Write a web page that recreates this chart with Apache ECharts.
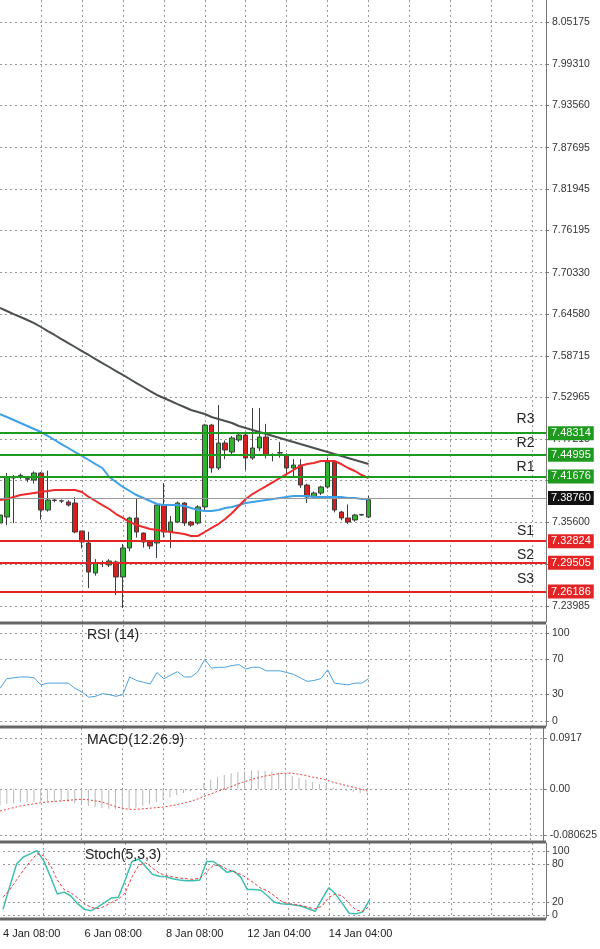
<!DOCTYPE html>
<html><head><meta charset="utf-8">
<script src="https://cdn.jsdelivr.net/npm/echarts@6/dist/echarts.min.js"></script>
<style>html,body{margin:0;padding:0;background:#fff}#c{width:600px;height:949px}</style>
</head><body><div id="c"></div>
<script>
// ---- data ----
const ohlc = [ // [open, close, low, high]
[7.3552,7.3663,7.350,7.368],[7.3636,7.4192,7.352,7.4247],[7.4178,7.4185,7.355,7.422],[7.4190,7.4215,7.416,7.424],
[7.4170,7.4160,7.412,7.420],[7.4150,7.4247,7.410,7.427],[7.4247,7.3733,7.360,7.426],[7.3733,7.3872,7.371,7.428],
[7.3872,7.3865,7.384,7.389],[7.3860,7.3858,7.383,7.388],[7.3844,7.3802,7.378,7.387],[7.3830,7.3427,7.341,7.391],
[7.3441,7.3288,7.320,7.3441],[7.3274,7.2871,7.2649,7.343],[7.2857,7.2996,7.282,7.305],[7.2996,7.2990,7.294,7.303],
[7.2969,7.3024,7.294,7.305],[7.3010,7.2802,7.2551,7.303],[7.2802,7.3205,7.2371,7.326],[7.3205,7.3622,7.316,7.364],
[7.3622,7.3427,7.335,7.390],[7.3413,7.3288,7.321,7.342],[7.3288,7.3233,7.319,7.331],[7.3274,7.3802,7.3066,7.381],
[7.3802,7.3427,7.335,7.4108],[7.3427,7.3566,7.3205,7.365],[7.3566,7.3830,7.355,7.385],[7.3830,7.3552,7.351,7.384],
[7.3566,7.3524,7.350,7.358],[7.3552,7.3775,7.353,7.380],[7.3775,7.4914,7.373,7.493],[7.4914,7.4317,7.425,7.493],
[7.4317,7.4664,7.429,7.5192],[7.4664,7.4567,7.444,7.470],[7.4539,7.4734,7.450,7.476],[7.4706,7.4775,7.468,7.480],
[7.4775,7.4456,7.429,7.480],[7.4456,7.4595,7.443,7.5151],[7.4595,7.4748,7.455,7.5151],[7.4748,7.4497,7.445,7.493],
[7.4497,7.4490,7.441,7.452],[7.4525,7.4530,7.446,7.468],[7.4497,7.4317,7.422,7.452],[7.4317,7.4358,7.420,7.444],
[7.4358,7.4080,7.404,7.444],[7.4080,7.3914,7.383,7.410],[7.3914,7.3969,7.389,7.399],[7.3969,7.4053,7.394,7.407],
[7.4053,7.4400,7.403,7.446],[7.4400,7.3733,7.370,7.442],[7.3705,7.3622,7.359,7.372],[7.3622,7.3566,7.354,7.381],
[7.3594,7.3663,7.357,7.368],[7.3663,7.3670,7.365,7.368],[7.3636,7.3876,7.362,7.393]];
const maRed = [7.3872,7.3886,7.3914,7.3941,7.3955,7.3969,7.3983,7.3997,7.4011,7.4011,7.4011,7.4011,7.3983,7.3914,7.3858,7.3802,7.3747,7.3677,7.3622,7.3566,7.3524,7.3497,7.3469,7.3455,7.3441,7.3427,7.3413,7.3399,7.3372,7.3372,7.3427,7.3483,7.3538,7.3608,7.3691,7.3789,7.3886,7.3955,7.4011,7.4066,7.4122,7.4178,7.4233,7.4289,7.4345,7.4372,7.4386,7.4414,7.4414,7.4414,7.4372,7.4317,7.4275,7.4219,7.4178];
const maBlue = [7.5067,7.5026,7.4984,7.4942,7.4901,7.4859,7.4817,7.4762,7.4706,7.4650,7.4595,7.4539,7.4484,7.4428,7.4372,7.4317,7.4192,7.4122,7.4053,7.3997,7.3941,7.3900,7.3858,7.3816,7.3802,7.3802,7.3802,7.3789,7.3761,7.3733,7.3719,7.3719,7.3733,7.3761,7.3775,7.3802,7.3830,7.3844,7.3858,7.3872,7.3886,7.3900,7.3914,7.3928,7.3928,7.3928,7.3914,7.3914,7.3914,7.3914,7.3914,7.3900,7.3900,7.3886,7.3886];
const maGray = [7.6541,7.6499,7.6457,7.6416,7.6374,7.6332,7.6277,7.6221,7.6166,7.6110,7.6054,7.5999,7.5943,7.5888,7.5832,7.5776,7.5721,7.5665,7.5610,7.5554,7.5498,7.5443,7.5387,7.5332,7.5290,7.5248,7.5206,7.5165,7.5123,7.5095,7.5068,7.5026,7.4998,7.4970,7.4942,7.4901,7.4873,7.4845,7.4817,7.4789,7.4762,7.4734,7.4706,7.4678,7.4650,7.4623,7.4595,7.4567,7.4539,7.4511,7.4484,7.4456,7.4428,7.4400,7.4372];
const rsi = [37,48,49,50,50,49,41,43,43,43,43,37,33,27,28,31,30,28,30,50,46,44,42,55,48,52,56,50,50,56,70,60,61,61,63,64,59,61,61,57,57,57,55,53,49,45,46,48,58,43,42,41,43,43,48];
const macdHist = [-0.028,-0.026,-0.024,-0.023,-0.022,-0.021,-0.021,-0.021,-0.021,-0.021,-0.022,-0.024,-0.026,-0.029,-0.031,-0.033,-0.034,-0.035,-0.036,-0.035,-0.032,-0.029,-0.026,-0.022,-0.018,-0.014,-0.01,-0.006,-0.003,0.002,0.012,0.018,0.022,0.026,0.029,0.031,0.033,0.034,0.034,0.033,0.032,0.03,0.027,0.024,0.021,0.018,0.014,0.01,0.009,0.004,0.001,-0.002,-0.004,-0.006,-0.005];
const macdSignal = [-0.038,-0.035,-0.032,-0.029,-0.027,-0.025,-0.023,-0.022,-0.021,-0.020,-0.019,-0.018,-0.017,-0.018,-0.020,-0.022,-0.026,-0.030,-0.033,-0.035,-0.035,-0.034,-0.033,-0.032,-0.031,-0.029,-0.027,-0.024,-0.021,-0.017,-0.012,-0.008,-0.003,0.001,0.005,0.010,0.014,0.018,0.021,0.024,0.026,0.028,0.029,0.029,0.027,0.025,0.022,0.020,0.017,0.013,0.010,0.007,0.004,0.001,-0.002];
const stochK = [9,45,80,91,96,101,85,60,33,36,30,18,9,7,13,20,27,28,55,84,88,76,64,61,60,57,55,54,54,55,84,84,76,67,69,60,40,40,39,30,20,18,17,16,14,10,6,25,43,33,18,3,2,5,24];
const stochD = [28,40,55,70,84,96,93,78,55,40,35,27,18,12,10,14,20,25,35,60,78,82,74,66,62,60,58,57,56,58,68,78,78,72,68,64,58,50,42,38,30,22,18,17,15,12,10,14,28,33,30,18,8,6,14];
const dateLabels = {0:'4 Jan 08:00',12:'6 Jan 08:00',24:'8 Jan 08:00',36:'12 Jan 04:00',48:'14 Jan 04:00'};
const priceTicks = [8.05175,7.99310,7.93560,7.87695,7.81945,7.76195,7.70330,7.64580,7.58715,7.52965,7.47215,7.41465,7.35600,7.29850,7.23985];
const priceLabels = [8.05175,7.99310,7.93560,7.87695,7.81945,7.76195,7.70330,7.64580,7.58715,7.52965,7.47215,7.35600,7.23985];
const levels = [['R3',7.48314,'#1e9a1e'],['R2',7.44995,'#1e9a1e'],['R1',7.41676,'#1e9a1e'],['S1',7.32824,'#e42424'],['S2',7.29505,'#e42424'],['S3',7.26186,'#e42424']];
const lastPrice = 7.38760;
const NSLOT = 81;
// ---- build ----
const cats = Array.from({length:NSLOT},(_,i)=>String(i));
const grids = [
 {left:0,right:54,top:0,height:622},
 {left:0,right:54,top:625,height:101},
 {left:0,right:54,top:728,height:113},
 {left:0,right:54,top:843,height:75}
];
const vsplit = {show:true,interval:(i)=>i%6===0&&i>0,lineStyle:{color:'#9a9a9a',type:[2,3],width:1}};
const xAxes = grids.map((g,k)=>({type:'category',gridIndex:k,data:cats,boundaryGap:false,
  axisLine:{show:false},axisTick:{show:false},splitLine:vsplit,
  axisLabel:{show:k===3,interval:0,fontSize:11,color:'#222',fontFamily:'Liberation Sans',align:'left',margin:10,
    formatter:(v,i)=>dateLabels[i]||''}}));
const lab = {fontSize:10.5,color:'#333',fontFamily:'Liberation Sans',margin:6};
const hsplit = {show:true,lineStyle:{color:'#9a9a9a',type:[2,3],width:1}};
const yAxes = [
 {type:'value',gridIndex:0,position:'right',min:7.2176,max:8.0823,axisLine:{show:true,lineStyle:{color:'#777'}},
  axisTick:{show:true,customValues:priceTicks,length:3},splitLine:hsplit,
  axisLabel:Object.assign({customValues:priceLabels,formatter:v=>v.toFixed(5)},lab)},
 {type:'value',gridIndex:1,position:'right',min:-5.7,max:109,axisLine:{show:true,lineStyle:{color:'#777'}},
  axisTick:{show:true,customValues:[0,30,70,100],length:3},splitLine:hsplit,
  axisLabel:Object.assign({customValues:[0,30,70,100]},lab)},
 {type:'value',gridIndex:2,position:'right',min:-0.091,max:0.109,axisLine:{show:true,lineStyle:{color:'#777'}},
  axisTick:{show:true,customValues:[-0.080625,0,0.0917],length:3},splitLine:hsplit,
  axisLabel:Object.assign({customValues:[-0.080625,0,0.0917],formatter:v=>v===0?'0.00':String(v)},lab)},
 {type:'value',gridIndex:3,position:'right',min:-4.5,max:113,axisLine:{show:true,lineStyle:{color:'#777'}},
  axisTick:{show:true,customValues:[0,20,80,100],length:3},splitLine:hsplit,
  axisLabel:Object.assign({customValues:[0,20,80,100]},lab)}
];
const lvlLines = levels.map(l=>({yAxis:l[1],lineStyle:{color:l[2],width:2,type:'solid'},
  label:{show:true,position:'end',distance:2,formatter:l[1].toFixed(5),color:'#fff',backgroundColor:l[2],
    padding:[2,3,1,3],fontSize:11,fontFamily:'Liberation Sans'}}));
lvlLines.push({yAxis:lastPrice,lineStyle:{color:'#999',width:1,type:'solid'},
  label:{show:true,position:'end',distance:2,formatter:lastPrice.toFixed(5),color:'#fff',backgroundColor:'#111',
    padding:[2,3,1,3],fontSize:11,fontFamily:'Liberation Sans'}});
const lvlText = levels.map(l=>({coord:[77,l[1]],symbol:'circle',symbolSize:1,itemStyle:{color:'transparent'},
  label:{show:true,position:'top',distance:4,formatter:l[0],color:'#222',fontSize:14,fontFamily:'Liberation Sans'}}));
const ttl = {fontSize:14,fontWeight:'normal',color:'#222',fontFamily:'Liberation Sans'};
const opt = {
 animation:false,backgroundColor:'#fff',
 grid:grids,
 xAxis:xAxes,yAxis:yAxes,
 title:[
  {text:'RSI (14)',left:82,top:623,textStyle:ttl},
  {text:'MACD(12.26.9)',left:82,top:728,textStyle:ttl},
  {text:'Stoch(5,3,3)',left:80,top:843,textStyle:ttl}
 ],
 graphic:[623,727,842,919].map(y=>({type:'rect',shape:{x:0,y:y-1.5,width:546,height:3},style:{fill:'#666'},z:100})),
 series:[
  {type:'candlestick',xAxisIndex:0,yAxisIndex:0,data:ohlc,barWidth:5,
   itemStyle:{color:'#2fb52f',color0:'#d81e1e',borderColor:'#3d3d3d',borderColor0:'#3d3d3d',borderWidth:1},
   markLine:{symbol:'none',silent:true,data:lvlLines},
   markPoint:{data:lvlText,silent:true}},
  {type:'line',xAxisIndex:0,yAxisIndex:0,data:maGray,symbol:'none',lineStyle:{color:'#4a4f4f',width:2}},
  {type:'line',xAxisIndex:0,yAxisIndex:0,data:maBlue,symbol:'none',lineStyle:{color:'#3fa0ea',width:2}},
  {type:'line',xAxisIndex:0,yAxisIndex:0,data:maRed,symbol:'none',lineStyle:{color:'#ee2a2a',width:2}},
  {type:'line',xAxisIndex:1,yAxisIndex:1,data:rsi,symbol:'none',lineStyle:{color:'#4ca3e0',width:1}},
  {type:'bar',xAxisIndex:2,yAxisIndex:2,data:macdHist,barWidth:1,itemStyle:{color:'#b8b8b8'}},
  {type:'line',xAxisIndex:2,yAxisIndex:2,data:macdSignal,symbol:'none',lineStyle:{color:'#e84040',width:1,type:[2,2]}},
  {type:'line',xAxisIndex:3,yAxisIndex:3,data:stochK,symbol:'none',lineStyle:{color:'#3cbfb0',width:1.5}},
  {type:'line',xAxisIndex:3,yAxisIndex:3,data:stochD,symbol:'none',lineStyle:{color:'#e84040',width:1,type:[3,2]}}
 ]
};
const ch = echarts.init(document.getElementById('c'),null,{renderer:'canvas'});
ch.setOption(opt);
</script></body></html>
